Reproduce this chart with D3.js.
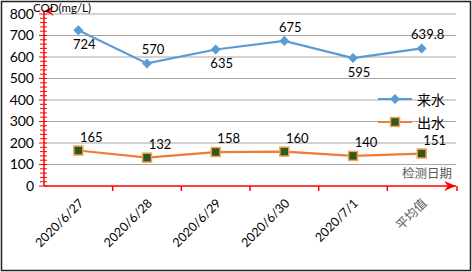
<!DOCTYPE html>
<html>
<head>
<meta charset="utf-8">
<script src="https://cdn.jsdelivr.net/npm/d3@7"></script>
<style>
  body { margin: 0; background: #fff; }
  svg text { font-family: Lato, "Noto Sans CJK SC", sans-serif; }
  .cjk { font-family: "Noto Sans CJK SC", sans-serif; }
</style>
</head>
<body>
<div id="chart"></div>
<script>
// Data
const dates = ["2020/6/27", "2020/6/28", "2020/6/29", "2020/6/30", "2020/7/1", "平均值"];
const inflow = [724, 570, 635, 675, 595, 639.8];
const outflow = [165, 132, 158, 160, 140, 151];
const inflowLabels = ["724", "570", "635", "675", "595", "639.8"];
const outflowLabels = ["165", "132", "158", "160", "140", "151"];
const yTicks = [0, 100, 200, 300, 400, 500, 600, 700, 800];

// label placement (1 = below point, -1 = above)
const inflowSide = [1, -1, 1, -1, 1, -1];

const W = 472, H = 272;
const margin = { top: 14, right: 16, bottom: 86, left: 44 };
const width = 456 - margin.left;
const height = 186 - margin.top;

const svg = d3.select("#chart").append("svg")
  .attr("width", W).attr("height", H);

// outer frame
svg.append("rect")
  .attr("x", 1.5).attr("y", 1.5)
  .attr("width", W - 3).attr("height", H - 3)
  .attr("fill", "#fff").attr("stroke", "#222").attr("stroke-width", 1.5);

const defs = svg.append("defs");
defs.append("marker").attr("id", "arrowUp")
  .attr("viewBox", "0 0 10 10").attr("refX", 5).attr("refY", 0)
  .attr("markerWidth", 10).attr("markerHeight", 10).attr("markerUnits", "userSpaceOnUse")
  .attr("orient", "auto")
  .append("path").attr("d", "M0,10 L5,0 L10,10 L5,6 Z").attr("fill", "red");

const g = svg.append("g").attr("transform", `translate(${margin.left},${margin.top})`);

const x = d3.scaleBand().domain(dates).range([0, width]);
const y = d3.scaleLinear().domain([0, 800]).range([height, 0]);

// gridlines
g.append("g").selectAll("line")
  .data(yTicks.filter(d => d > 0))
  .join("line")
  .attr("x1", 0).attr("x2", width)
  .attr("y1", d => y(d)).attr("y2", d => y(d))
  .attr("stroke", "#a6a6a6").attr("stroke-width", 1);

// y axis labels
const yAxis = d3.axisLeft(y).tickValues(yTicks).tickSize(0).tickPadding(10);
g.append("g").call(yAxis)
  .call(s => s.select(".domain").remove())
  .selectAll("text")
  .attr("font-size", 14).attr("fill", "#000");

// y axis red line with minor ticks
const minor = d3.range(0, 801, 20);
g.append("g").selectAll("line")
  .data(minor)
  .join("line")
  .attr("x1", d => d % 100 === 0 ? -5 : -4).attr("x2", 3)
  .attr("y1", d => y(d)).attr("y2", d => y(d))
  .attr("stroke", "red").attr("stroke-width", 1);
g.append("line")
  .attr("x1", 0).attr("x2", 0).attr("y1", height).attr("y2", -3)
  .attr("stroke", "red").attr("stroke-width", 1.5)
  .attr("marker-end", "url(#arrowUp)");

// x axis red line with arrow
g.append("line")
  .attr("x1", 0).attr("x2", width).attr("y1", height).attr("y2", height)
  .attr("stroke", "red").attr("stroke-width", 1.5);
g.append("path")
  .attr("d", `M${width - 12},${height - 5} L${width},${height} L${width - 12},${height + 5} L${width - 8},${height} Z`)
  .attr("fill", "red");
g.append("g").selectAll("line")
  .data(dates.slice(1).map(d => x(d)).concat([width + 1]))
  .join("line")
  .attr("x1", d => d).attr("x2", d => d)
  .attr("y1", height).attr("y2", height + 5)
  .attr("stroke", "red").attr("stroke-width", 1.5);

// x tick labels
g.append("g").selectAll("text")
  .data(dates)
  .join("text")
  .attr("class", d => d === "平均值" ? "cjk" : null)
  .attr("transform", d => `translate(${x(d) + x.bandwidth() / 2 + 6},${height + 18}) rotate(-45)`)
  .attr("text-anchor", "end")
  .attr("font-size", 12.5)
  .attr("fill", d => d === "平均值" ? "#595959" : "#000")
  .text(d => d);

const cx = d => x(d) + x.bandwidth() / 2;

// inflow line
const line = d3.line().x((d, i) => cx(dates[i])).y(d => y(d));
g.append("path").datum(inflow)
  .attr("d", line).attr("fill", "none")
  .attr("stroke", "#5b9bd5").attr("stroke-width", 2.2);
g.append("g").selectAll("path")
  .data(inflow)
  .join("path")
  .attr("d", d3.symbol(d3.symbolDiamond2, 64))
  .attr("transform", (d, i) => `translate(${cx(dates[i])},${y(d)})`)
  .attr("fill", "#5b9bd5");

// outflow line
g.append("path").datum(outflow)
  .attr("d", line).attr("fill", "none")
  .attr("stroke", "#ed7d31").attr("stroke-width", 2.2);
g.append("g").selectAll("rect")
  .data(outflow)
  .join("rect")
  .attr("x", (d, i) => cx(dates[i]) - 4.5).attr("y", d => y(d) - 4.5)
  .attr("width", 9).attr("height", 9)
  .attr("fill", "#2e5a1c").attr("stroke", "#f4a460").attr("stroke-width", 1.5);

// data labels
g.append("g").selectAll("text")
  .data(inflow)
  .join("text")
  .attr("x", (d, i) => cx(dates[i]) + 6)
  .attr("y", (d, i) => y(d) + (inflowSide[i] > 0 ? 19 : -9))
  .attr("text-anchor", "middle").attr("font-size", 13).attr("fill", "#000")
  .text((d, i) => inflowLabels[i]);
g.append("g").selectAll("text")
  .data(outflow)
  .join("text")
  .attr("x", (d, i) => cx(dates[i]) + 13)
  .attr("y", d => y(d) - 9)
  .attr("text-anchor", "middle").attr("font-size", 13).attr("fill", "#000")
  .text((d, i) => outflowLabels[i]);

// axis titles
svg.append("text")
  .attr("x", 33).attr("y", 12)
  .attr("font-size", 11.5).attr("fill", "#000")
  .text("COD(mg/L)");
svg.append("text").attr("class", "cjk")
  .attr("x", 452).attr("y", 178)
  .attr("text-anchor", "end")
  .attr("font-size", 12.5).attr("fill", "#595959")
  .text("检测日期");

// legend
const legend = svg.append("g");
legend.append("line").attr("x1", 378).attr("x2", 412).attr("y1", 99).attr("y2", 99)
  .attr("stroke", "#5b9bd5").attr("stroke-width", 2.2);
legend.append("path").attr("d", d3.symbol(d3.symbolDiamond2, 64))
  .attr("transform", "translate(395,99)").attr("fill", "#5b9bd5");
legend.append("text").attr("class", "cjk")
  .attr("x", 417).attr("y", 104.5).attr("font-size", 14).attr("fill", "#000").text("来水");
legend.append("line").attr("x1", 378).attr("x2", 412).attr("y1", 122).attr("y2", 122)
  .attr("stroke", "#ed7d31").attr("stroke-width", 2.2);
legend.append("rect").attr("x", 390.5).attr("y", 117.5).attr("width", 9).attr("height", 9)
  .attr("fill", "#2e5a1c").attr("stroke", "#f4a460").attr("stroke-width", 1.5);
legend.append("text").attr("class", "cjk")
  .attr("x", 417).attr("y", 127.5).attr("font-size", 14).attr("fill", "#000").text("出水");
</script>
</body>
</html>
